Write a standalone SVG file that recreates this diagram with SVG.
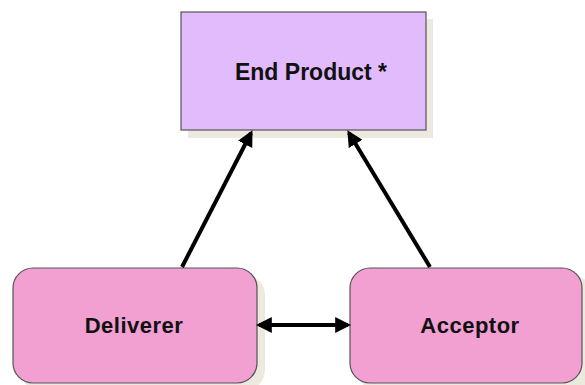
<svg xmlns="http://www.w3.org/2000/svg" width="585" height="385" viewBox="0 0 585 385">
  <style>
    .shadow { fill: #ece9df; }
    .box { stroke: #555; stroke-width: 1.2; }
    .label { font-family: "Liberation Sans", Arial, sans-serif; font-weight: bold; fill: #111; text-anchor: middle; }
    .conn { stroke: #000; stroke-width: 4; fill: none; }
  </style>
  <defs>
    <marker id="head" viewBox="0 0 10 10" refX="8" refY="5" markerWidth="4" markerHeight="4" orient="auto-start-reverse">
      <path d="M0,0 L10,5 L0,10 z" fill="#000"/>
    </marker>
  </defs>
  <rect width="585" height="385" fill="#fff"/>

  <g id="end-product">
    <rect class="shadow" x="188" y="19" width="245" height="119"/>
    <rect class="box" x="181" y="12" width="245" height="118" fill="#e1bbfb"/>
    <text class="label" x="311" y="80" font-size="23">End Product *</text>
  </g>

  <g id="deliverer">
    <rect class="shadow" x="20" y="275" width="245" height="115" rx="20"/>
    <rect class="box" x="13" y="268" width="244" height="115" rx="20" fill="#f29fd2"/>
    <text class="label" x="134" y="333" font-size="22" letter-spacing="0.5">Deliverer</text>
  </g>

  <g id="acceptor">
    <rect class="shadow" x="357" y="275" width="235" height="115" rx="20"/>
    <rect class="box" x="350" y="268" width="232" height="115" rx="20" fill="#f29fd2"/>
    <text class="label" x="470" y="333" font-size="22" letter-spacing="0.5">Acceptor</text>
  </g>

  <g id="connectors">
    <line class="conn" x1="182" y1="267" x2="251" y2="133" marker-end="url(#head)"/>
    <line class="conn" x1="430" y1="267" x2="349" y2="133" marker-end="url(#head)"/>
    <line class="conn" x1="259" y1="325" x2="348" y2="325" marker-start="url(#head)" marker-end="url(#head)"/>
  </g>
</svg>
